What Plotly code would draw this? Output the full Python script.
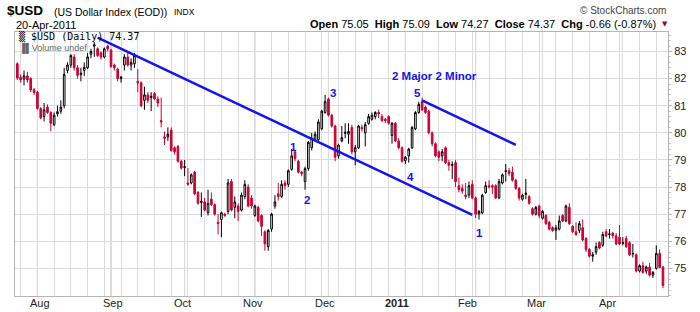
import pandas as pd
import plotly.graph_objects as go

# ---------------- data ----------------
dates = [d.strftime('%Y-%m-%d') for d in pd.bdate_range('2010-07-23', '2011-04-20')]

open_ = [82.55,82.05,81.98,82.10,82.00,81.60,81.50,80.90,80.60,80.95,80.75,80.30,80.70,80.80,81.00,82.30,82.50,82.80,82.40,82.15,
         82.30,82.40,82.90,83.20,83.10,82.95,82.80,83.20,83.05,82.50,82.35,82.00,82.50,82.80,82.50,82.55,81.90,81.85,81.20,81.40,
         81.30,81.45,81.25,80.45,79.85,79.85,80.10,79.45,79.50,78.95,78.72,78.15,78.15,78.55,77.80,77.43,77.45,77.05,77.55,77.35,
         76.70,76.80,77.00,77.10,78.20,77.25,77.30,77.15,77.65,78.00,77.60,76.95,77.25,76.95,76.35,75.80,76.45,77.30,77.75,77.65,
         78.15,78.10,78.65,79.30,78.95,78.55,78.20,78.68,79.45,79.75,79.75,80.15,80.75,81.25,80.65,80.25,79.15,79.70,79.98,79.95,
         80.20,79.30,79.45,80.20,80.00,80.35,80.50,80.60,80.75,80.60,80.50,80.60,79.90,80.35,79.70,79.45,78.97,79.15,79.45,80.15,
         80.75,81.15,80.95,80.80,80.00,79.60,79.30,79.15,79.45,78.90,78.80,78.90,78.05,77.95,77.70,77.70,78.10,77.60,77.00,77.05,
         77.80,78.05,78.05,78.05,77.60,78.15,78.57,78.60,78.55,78.25,77.95,77.55,77.73,77.65,77.20,77.00,77.30,76.85,76.95,76.70,
         76.50,76.40,76.45,76.95,76.75,77.25,76.55,76.35,76.40,76.50,76.10,75.70,75.45,75.60,75.95,75.85,76.35,76.25,76.30,76.20,
         76.15,75.92,76.10,75.95,75.53,75.50,74.90,75.10,74.90,75.05,74.75,75.00,75.55,75.05]
high = [82.60,82.15,82.30,82.25,82.05,81.65,81.55,80.95,81.10,81.05,80.80,80.75,81.00,81.20,82.40,82.60,82.90,82.90,82.50,82.40,
        82.60,82.95,83.10,83.35,83.15,83.00,83.15,83.25,83.10,82.55,82.40,82.10,82.90,82.95,82.75,82.95,82.35,81.90,81.70,81.50,
        81.50,81.50,81.35,81.30,80.05,80.20,80.20,79.50,79.55,79.00,79.00,78.70,78.50,78.60,77.85,77.80,77.60,77.90,77.80,77.40,
        77.00,77.10,77.05,78.30,78.30,77.65,77.40,77.80,78.25,78.10,77.70,77.35,77.30,77.00,76.40,76.45,77.05,77.70,78.15,78.25,
        78.25,78.65,79.40,79.35,79.00,78.60,78.75,79.70,80.00,80.05,80.50,80.85,81.40,81.30,80.70,80.30,79.60,80.25,80.35,80.35,
        80.30,79.55,80.30,80.30,80.40,80.70,80.75,80.80,80.85,80.70,80.55,80.65,80.40,80.40,79.80,79.50,79.15,79.45,80.25,80.80,
        81.15,81.30,81.00,80.85,80.05,79.65,79.35,79.40,79.50,79.00,78.95,79.00,78.35,78.10,78.15,78.20,78.25,77.65,77.15,77.75,
        78.20,78.25,78.10,78.10,78.30,78.50,78.85,78.70,78.75,78.30,78.00,77.75,78.30,77.70,77.25,77.30,77.35,77.15,77.00,76.75,
        76.55,76.60,76.95,77.00,77.35,77.40,76.60,76.70,76.75,76.80,76.15,75.75,75.60,75.95,76.00,76.35,76.45,76.45,76.35,76.30,
        76.60,76.15,76.20,76.00,75.90,75.55,75.15,75.25,75.10,75.20,74.90,75.85,75.70,75.09]
low = [81.95,81.85,81.75,81.85,81.50,81.40,80.85,80.50,80.42,80.70,80.05,80.25,80.60,80.70,80.90,82.20,82.40,82.30,82.00,81.90,
       82.10,82.35,82.75,82.80,82.80,82.70,82.75,83.00,82.40,82.30,81.90,81.85,82.30,82.45,82.30,82.40,81.50,80.95,80.85,81.10,
       80.80,81.20,80.95,80.20,79.55,79.70,79.30,79.20,78.90,78.65,78.40,78.05,78.10,77.70,77.35,76.90,77.10,76.95,77.30,76.95,
       76.25,76.15,76.90,77.00,77.10,76.85,76.75,77.10,77.55,77.25,77.20,76.90,76.70,76.20,75.65,75.65,76.35,77.20,77.50,77.60,
       77.90,78.00,78.60,78.95,78.50,78.40,77.90,78.60,79.35,79.70,79.70,80.10,80.70,80.60,80.20,78.95,79.05,79.65,79.80,79.60,
       79.20,78.80,79.40,80.05,79.50,80.30,80.45,80.50,80.55,80.40,80.35,80.30,79.60,79.65,79.40,78.90,78.85,78.90,79.40,80.10,
       80.70,80.80,80.70,79.95,79.50,79.10,78.95,78.95,78.85,78.60,78.30,78.00,77.80,77.75,77.55,77.60,77.55,76.85,76.80,77.00,
       77.75,77.95,77.75,77.55,77.55,78.10,78.20,78.40,78.20,77.90,77.50,77.50,77.55,77.35,76.95,76.95,76.85,76.80,76.60,76.40,
       76.35,76.05,76.40,76.70,76.70,76.60,76.30,76.20,76.30,76.00,75.60,75.40,75.25,75.50,75.70,75.80,76.15,76.10,76.10,75.85,
       75.85,75.85,75.75,75.45,75.40,74.85,74.85,74.80,74.80,74.70,74.65,74.95,75.03,74.27]
close = [82.02,81.95,82.10,81.95,81.58,81.48,80.90,80.55,80.85,80.75,80.35,80.65,80.78,80.95,82.15,82.50,82.85,82.40,82.12,82.20,
         82.42,82.80,83.00,83.25,82.85,82.80,83.10,83.10,82.45,82.40,82.00,82.05,82.80,82.50,82.60,82.85,81.85,81.00,81.40,81.20,
         81.35,81.25,81.10,80.40,79.80,79.95,79.35,79.30,78.95,78.70,78.75,78.10,78.45,77.75,77.40,77.47,77.15,77.40,77.35,77.00,
         76.65,77.05,76.95,78.15,77.15,77.45,77.10,77.70,78.10,77.30,77.30,77.30,76.75,76.55,75.90,76.40,77.00,77.45,77.65,78.10,
         78.05,78.60,79.15,79.05,78.55,78.50,78.68,79.65,79.80,79.95,80.40,80.80,81.15,80.65,80.25,79.10,79.55,79.82,80.02,80.05,
         79.30,79.45,80.25,80.15,80.30,80.60,80.65,80.75,80.70,80.45,80.45,80.35,80.35,79.70,79.45,78.95,79.10,79.40,80.20,80.75,
         81.05,80.85,80.75,80.00,79.60,79.15,79.10,79.30,78.90,78.80,78.83,78.20,77.90,77.85,77.65,78.05,77.60,77.00,77.10,77.70,
         78.05,78.00,78.00,77.60,78.20,78.45,78.60,78.50,78.25,77.95,77.60,77.70,77.77,77.40,77.00,77.25,76.95,77.10,76.65,76.45,
         76.40,76.50,76.75,76.75,77.30,76.65,76.35,76.25,76.65,76.05,75.70,75.45,75.50,75.80,75.75,76.25,76.20,76.27,76.20,75.90,
         75.90,75.95,75.80,75.50,75.55,74.90,75.10,74.85,75.05,74.75,74.85,75.55,75.03,74.37]

month_labels = ['Aug', 'Sep', 'Oct', 'Nov', 'Dec', '<b>2011</b>', 'Feb', 'Mar', 'Apr']
# label anchors along the date axis (trading-day index)
month_label_pos = [6.8, 28.6, 49.5, 70.4, 92.0, 113.4, 134.7, 155.3, 176.5]
y_ticks = [75, 76, 77, 78, 79, 80, 81, 82, 83]

# analyst channel lines (date, value)
trend1_x = ['2010-08-26', '2011-01-31']
trend1_y = [83.51, 76.97]
trend2_x = ['2011-01-10', '2011-02-17']
trend2_y = [81.20, 79.56]

# wave labels (position index along the date axis, value)
wave_text = ['1', '2', '3', '4', '5', '2 Major 2 Minor', '1']
wave_x = [82.5, 86.6, 94.4, 117.5, 119.5, 124.8, 138.2]
wave_y = [79.47, 77.54, 81.47, 78.38, 81.47, 82.09, 76.30]

# ---------------- figure ----------------
RED = '#CC0033'
BLUE = '#1414F0'
FONT = 'Liberation Sans, Arial, sans-serif'

month_starts = []
seen = set()
for d in dates:
    if d[:7] not in seen:
        seen.add(d[:7])
        if d[:7] != '2010-07':
            month_starts.append(d)
mondays = [d for d in dates if pd.Timestamp(d).weekday() == 0 and d not in month_starts]

fig = go.Figure()
fig.add_trace(go.Candlestick(
    x=dates, open=open_, high=high, low=low, close=close,
    increasing=dict(line=dict(color='black', width=1), fillcolor='white'),
    decreasing=dict(line=dict(color=RED, width=1), fillcolor=RED),
    whiskerwidth=0, showlegend=False, hoverinfo='skip'))

for tx, ty in [(trend1_x, trend1_y), (trend2_x, trend2_y)]:
    fig.add_trace(go.Scatter(x=tx, y=ty, mode='lines', line=dict(color=BLUE, width=2.5),
                             showlegend=False, hoverinfo='skip'))

shapes = []
for d in month_starts:
    shapes.append(dict(type='line', xref='x', yref='paper', x0=d, x1=d, y0=0, y1=1,
                       line=dict(color='#b4b4b4', width=1), layer='below'))

def px(x):
    return (x - 15) / 653.0

def py(y):
    return (296 - y) / 264.0

ann = []
for t, x, y in zip(wave_text, wave_x, wave_y):
    ann.append(dict(x=x, y=y, xref='x', yref='y', text='<b>%s</b>' % t, showarrow=False,
                    font=dict(family=FONT, size=11.5, color=BLUE)))

for t, x in zip(month_labels, month_label_pos):
    ann.append(dict(x=x, y=py(303), xref='x', yref='paper', text=t, showarrow=False,
                    xanchor='center', yanchor='middle',
                    font=dict(family=FONT, size=11, color='#222')))

ann += [
    dict(x=px(5), y=py(11), xref='paper', yref='paper', xanchor='left', yanchor='middle',
         text='<b>$USD</b>', showarrow=False, font=dict(family=FONT, size=13.5, color='black')),
    dict(x=px(52), y=py(12), xref='paper', yref='paper', xanchor='left', yanchor='middle',
         text='(US Dollar Index (EOD))', showarrow=False, font=dict(family=FONT, size=10.5, color='black')),
    dict(x=px(172), y=py(12), xref='paper', yref='paper', xanchor='left', yanchor='middle',
         text='INDX', showarrow=False, font=dict(family=FONT, size=8.5, color='black')),
    dict(x=px(14), y=py(24.5), xref='paper', yref='paper', xanchor='left', yanchor='middle',
         text='20-Apr-2011', showarrow=False, font=dict(family=FONT, size=11, color='black')),
    dict(x=px(668), y=py(11), xref='paper', yref='paper', xanchor='right', yanchor='middle',
         text='© StockCharts.com', showarrow=False, font=dict(family=FONT, size=10, color='#444')),
    dict(x=px(658), y=py(24), xref='paper', yref='paper', xanchor='right', yanchor='middle',
         text='<b>Open</b> 75.05  <b>High</b> 75.09  <b>Low</b> 74.27  <b>Close</b> 74.37  <b>Chg</b> -0.66 (-0.87%)',
         showarrow=False, font=dict(family=FONT, size=11, color='black')),
    dict(x=px(665), y=py(24), xref='paper', yref='paper', xanchor='center', yanchor='middle',
         text='▼', showarrow=False, font=dict(family='DejaVu Sans', size=7, color='#8B0A2A')),
    dict(x=px(17), y=py(36.5), xref='paper', yref='paper', xanchor='left', yanchor='middle',
         text='\u2592 $USD (Daily) 74.37', showarrow=False,
         font=dict(family='DejaVu Sans Mono', size=10, color='black')),
    dict(x=px(17), y=py(47.5), xref='paper', yref='paper', xanchor='left', yanchor='middle',
         text='\u2590\u258cVolume undef', showarrow=False,
         font=dict(family=FONT, size=9, color='#666')),
]

fig.update_layout(
    width=700, height=312,
    margin=dict(l=15, r=32, t=32, b=16),
    paper_bgcolor='white', plot_bgcolor='white',
    shapes=shapes, annotations=ann,
    font=dict(family=FONT, size=11, color='#222'),
    xaxis=dict(type='category', range=[-0.7, 194.5], tickvals=mondays + month_starts,
               ticktext=[''] * (len(mondays) + len(month_starts)),
               showgrid=True, gridcolor='#dcdcdc', gridwidth=1, showline=True, linecolor='#b4b4b4',
               mirror=True, ticks='', rangeslider=dict(visible=False), fixedrange=True),
    yaxis=dict(side='right', range=[73.98, 83.72], tickvals=y_ticks, showgrid=True,
               gridcolor='#dcdcdc', showline=True, linecolor='#b4b4b4', mirror=True,
               ticks='outside', ticklen=3, tickcolor='#b4b4b4',
               minor=dict(dtick=0.2, ticks='outside', ticklen=2, tickcolor='#c8c8c8', showgrid=False),
               tickfont=dict(family=FONT, size=11, color='#222'), zeroline=False),
    hovermode=False,
)

fig.write_html('out.html')
